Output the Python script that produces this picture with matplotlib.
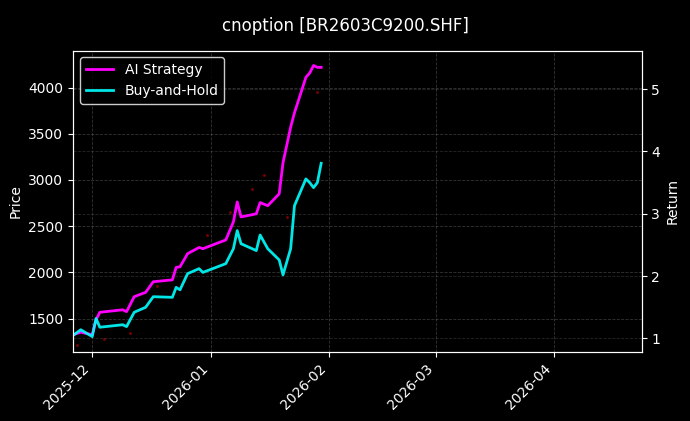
import matplotlib
matplotlib.use("Agg")
import matplotlib.pyplot as plt
import matplotlib.dates as mdates
import pandas as pd

dates = ["2025-11-26","2025-11-28","2025-12-01","2025-12-02","2025-12-03","2025-12-09","2025-12-10",
         "2025-12-12","2025-12-15","2025-12-17","2025-12-22","2025-12-23","2025-12-24","2025-12-26",
         "2025-12-29","2025-12-30","2026-01-05","2026-01-07","2026-01-08","2026-01-09","2026-01-13",
         "2026-01-14","2026-01-16","2026-01-19","2026-01-20","2026-01-22","2026-01-23","2026-01-26",
         "2026-01-27","2026-01-28","2026-01-29","2026-01-30"]
ai_ret = [1.06,1.10,1.06,1.30,1.42,1.46,1.43,1.67,1.74,1.91,1.94,2.14,2.15,2.36,2.46,2.44,2.58,2.87,
          3.19,2.95,3.00,3.18,3.13,3.32,3.82,4.39,4.62,5.19,5.26,5.38,5.35,5.35]
bh_ret = [1.05,1.14,1.03,1.32,1.18,1.22,1.19,1.42,1.50,1.67,1.66,1.82,1.78,2.04,2.12,2.06,2.20,2.44,
          2.73,2.52,2.41,2.66,2.44,2.26,2.02,2.44,3.13,3.56,3.50,3.42,3.50,3.81]
price_dates = ["2025-11-27","2025-12-04","2025-12-11","2025-12-18","2025-12-31","2026-01-06","2026-01-12",
               "2026-01-15","2026-01-21","2026-01-29"]
price = [1220,1280,1350,1850,2400,2650,2900,3050,2600,3950]

d = pd.to_datetime(dates)
pd_ = pd.to_datetime(price_dates)

plt.style.use("dark_background")
fig, ax = plt.subplots(figsize=(6.9, 4.21), dpi=100)
fig.patch.set_facecolor("black")
ax.set_facecolor("black")
ax.scatter(pd_, price, s=1.5, color="#8b0000", alpha=0.7)
ax.set_ylim(1145, 4400)
ax.set_ylabel("Price")
ax.grid(True, linestyle="--", color="gray", alpha=0.4, linewidth=0.6)

ax2 = ax.twinx()
ax2.plot(d, ai_ret, color="#ff00ff", lw=2, label="AI Strategy")
ax2.plot(d, bh_ret, color="#00ffff", lw=2, label="Buy-and-Hold", alpha=0.9)
ax2.set_ylim(0.79, 5.62)
ax2.set_ylabel("Return")
ax2.grid(True, linestyle="--", color="gray", alpha=0.3, linewidth=0.6)
ax2.legend(loc="upper left", facecolor="black", edgecolor="white")

ax.set_xlim(pd.Timestamp("2025-11-26"), pd.Timestamp("2026-04-24"))
ax.xaxis.set_major_locator(mdates.MonthLocator())
ax.xaxis.set_major_formatter(mdates.DateFormatter("%Y-%m"))
plt.setp(ax.get_xticklabels(), rotation=45, ha="right")
fig.suptitle("cnoption [BR2603C9200.SHF]", y=0.96)
fig.subplots_adjust(left=0.106, right=0.93, top=0.88, bottom=0.165)
fig.savefig("out.png", facecolor="black")
